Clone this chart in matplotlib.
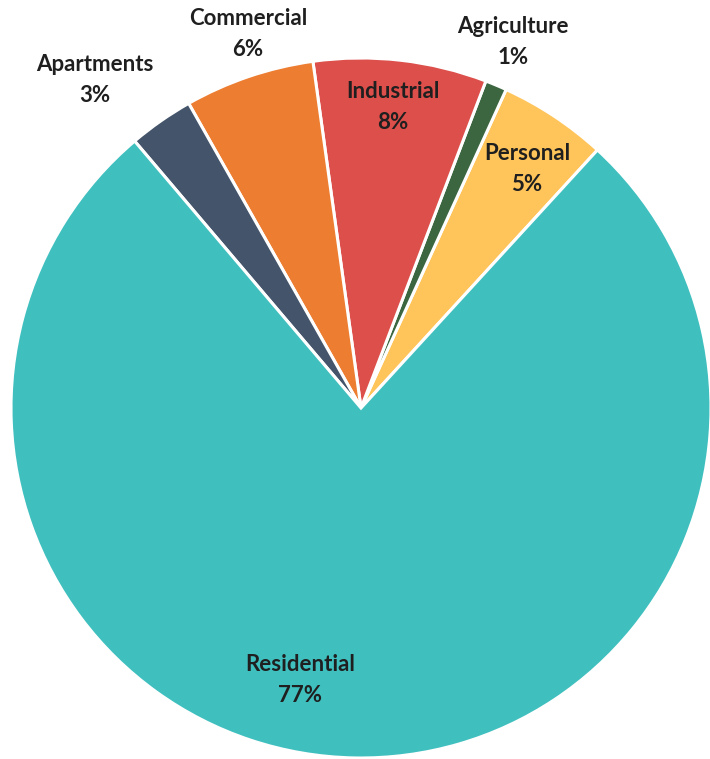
import numpy as np
import matplotlib
matplotlib.use('Agg')
import matplotlib.pyplot as plt

# slices, counterclockwise starting at the Personal/Residential boundary
Labels = ['Personal', 'Agriculture', 'Industrial', 'Commercial', 'Apartments', 'Residential']
Shares = [5, 1, 8, 6, 3, 77]
Colors = ['#FFC45A', '#3B6640', '#DC4F4B', '#ED7D31', '#44546A', '#40BFBF']

# label centres in data units (pie radius = 1)
LabelPos = [(0.474, 0.683), (0.434, 1.046), (0.091, 0.86),
            (-0.323, 1.069), (-0.76, 0.937), (-0.174, -0.777)]

W, H = 710, 759
Cx, Cy, R = 361, 408, 350  # pie centre and radius in pixels

fig = plt.figure(figsize=(W/100, H/100), dpi=100)
ax = fig.add_axes([(Cx-R)/W, (H-Cy-R)/H, 2*R/W, 2*R/H])
ax.pie(Shares, colors=Colors, startangle=47.5, counterclock=True,
       wedgeprops=dict(edgecolor='white', linewidth=2.2))
ax.set_xlim(-1, 1)
ax.set_ylim(-1, 1)
ax.set_aspect('equal')
ax.axis('off')

for lab, val, (x, y) in zip(Labels, Shares, LabelPos):
    ax.text(x, y, '%s\n%d%%' % (lab, val), ha='center', va='center',
            fontsize=16, fontweight='bold', family=['Lato', 'DejaVu Sans'],
            color='#1F1F1F', linespacing=1.55, clip_on=False)

plt.savefig('out.png', dpi=100)
